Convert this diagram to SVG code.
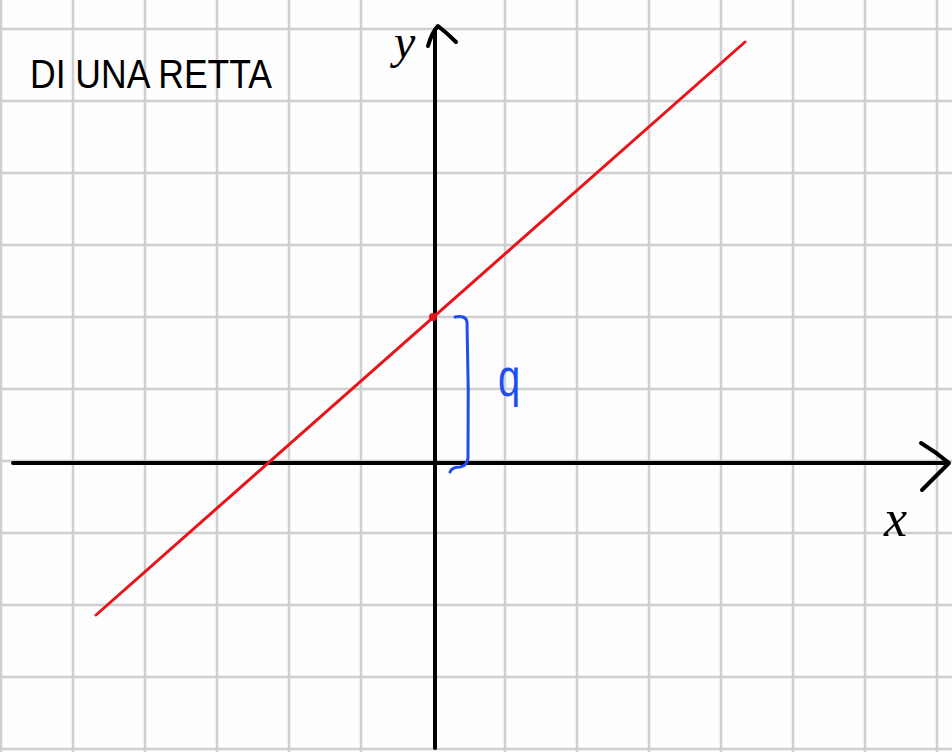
<svg xmlns="http://www.w3.org/2000/svg" width="952" height="752" viewBox="0 0 952 752">
<style>
.grid{stroke:#cfcfcf;stroke-width:2.5;fill:none}
.axis{stroke:#000;stroke-width:4;fill:none;stroke-linecap:round;stroke-linejoin:round}
.hand{font-family:"Liberation Sans","DejaVu Sans",sans-serif;fill:#000}
</style>
<rect width="952" height="752" fill="#fdfdfd"/>
<g id="grid" class="grid">
<path d="M1 0V752M73 0V752M145 0V752M217 0V752M289 0V752M361 0V752M505 0V752M577 0V752M649 0V752M721 0V752M793 0V752M865 0V752M937 0V752"/>
<path d="M0 29H952M0 101H952M0 173H952M0 245H952M0 317H952M0 389H952M0 461H952M0 533H952M0 605H952M0 677H952M0 749H952"/>
</g>
<g id="axes" class="axis">
<path d="M13 463H948"/>
<path d="M921 443Q936 452 949 463Q936 476 922 490"/>
<path d="M435 748V30"/>
<path d="M428 46Q432 32 438 26Q447 33 456 42"/>
</g>
<g id="line">
<path d="M96 615L745 42" stroke="#e8141a" stroke-width="3" fill="none" stroke-linecap="round"/>
<circle cx="433" cy="317" r="4" fill="#e8141a"/>
</g>
<g id="bracket">
<path d="M455 317Q466 315 467 322Q469 390 468 458Q467 466 460 467Q452 467 450 472" stroke="#1f4ef0" stroke-width="3" fill="none" stroke-linecap="round" stroke-linejoin="round"/>
</g>
<g id="labels">
<text class="hand" x="30" y="88" font-size="40" textLength="242" lengthAdjust="spacingAndGlyphs">DI UNA RETTA</text>
<text x="394" y="58" font-family="Liberation Serif,serif" font-style="italic" font-size="48" fill="#000">y</text>
<text x="884" y="536" font-family="Liberation Serif,serif" font-style="italic" font-size="52" fill="#000">x</text>
<text transform="translate(498,396) scale(1,1.3)" font-family="Liberation Sans,sans-serif" font-size="40" fill="#1f4ef0">q</text>
</g>
</svg>
